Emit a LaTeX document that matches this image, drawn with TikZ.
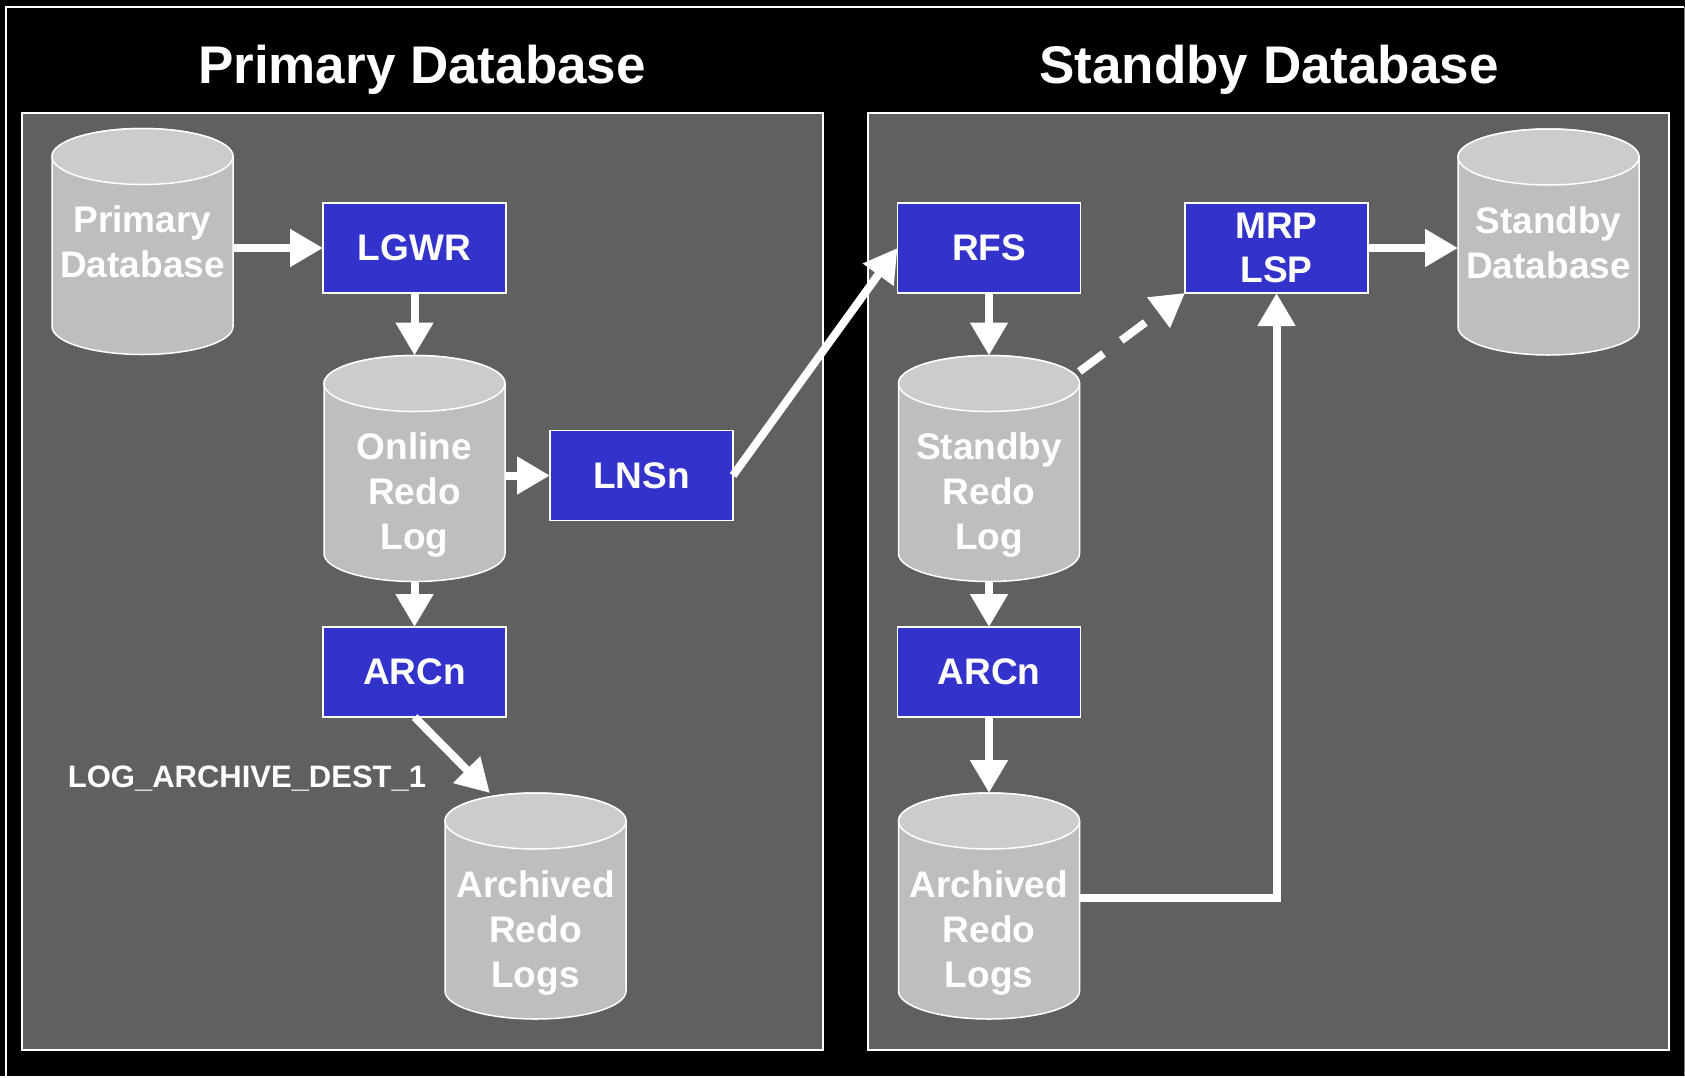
\documentclass[tikz,border=0pt]{standalone}
\usepackage{fontspec}
\setmainfont{Liberation Sans}
\usetikzlibrary{arrows.meta}
\definecolor{panelGray}{HTML}{606060}
\definecolor{procBlue}{HTML}{3333CC}
\definecolor{cylBody}{HTML}{BEBEBE}
\definecolor{cylTop}{HTML}{CCCCCC}
\pgfdeclarelayer{back}
\pgfdeclarelayer{cyl}
\pgfsetlayers{back,cyl,main}

\begin{document}
\begin{tikzpicture}[x=1pt, y=-1pt,
    every node/.style={text=white, font=\bfseries},
    proc/.style={draw=white, line width=1.5pt, fill=procBlue, minimum width=183pt, minimum height=90pt,
        outer sep=0pt, align=center, font=\fontsize{37}{44}\selectfont\bfseries},
    dbcyl/.style={minimum width=181pt, minimum height=226pt, outer sep=0pt, inner sep=0pt},
    dbtext/.style={align=center, font=\fontsize{37}{45}\selectfont\bfseries},
    flow/.style={draw=white, line width=8pt, -{Triangle[width=36pt,length=33pt]}}]
    \begin{pgfonlayer}{back}
    \fill[black] (0,0) rectangle (1685,1076);
    \draw[white, line width=2pt] (6,1076) -- (6,7) -- (1684,7);
    \draw[gray, line width=1pt] (1684,7) -- (1684,1076);
    \draw[white, line width=2pt, fill=panelGray] (22,113) rectangle (823,1050);
    \draw[white, line width=2pt, fill=panelGray] (868,113) rectangle (1669,1050);
    \end{pgfonlayer}
    \node[anchor=base, font=\fontsize{53}{60}\selectfont\bfseries] (ptitle) at (422,83) {Primary Database};
    \node[anchor=base, font=\fontsize{53}{60}\selectfont\bfseries] (stitle) at (1269,83) {Standby Database};
    % primary side
    \node[dbcyl, label={[dbtext, yshift=-0.5pt]center:{Primary\\Database}}] (pdb) at (142.5,241.5) {};
    \node[proc] (lgwr) at (414.5,248) {LGWR};
    \node[dbcyl, label={[dbtext, yshift=-27pt]center:{Online\\Redo\\Log}}] (olog) at (414.5,468.5) {};
    \node[proc] (lnsn) at (641.5,475.5) {LNSn};
    \node[proc] (arcp) at (414.5,672) {ARCn};
    \node[dbcyl, label={[dbtext, yshift=-27pt]center:{Archived\\Redo\\Logs}}] (alogp) at (535.5,906) {};
    \node[anchor=base, font=\fontsize{31}{36}\selectfont\bfseries] (dest) at (247,787) {LOG\_ARCHIVE\_DEST\_1};
    % standby side
    \node[proc] (rfs) at (989,248) {RFS};
    \node[proc] (mrp) at (1276.5,248) {MRP\\LSP};
    \node[dbcyl, label={[dbtext, yshift=-0.5pt]center:{Standby\\Database}}] (sdb) at (1548.5,242) {};
    \node[dbcyl, label={[dbtext, yshift=-27pt]center:{Standby\\Redo\\Log}}] (slog) at (989,468.5) {};
    \node[proc] (arcs) at (989,672) {ARCn};
    \node[dbcyl, label={[dbtext, yshift=-27pt]center:{Archived\\Redo\\Logs}}] (alogs) at (989,906) {};
    % cylinder bodies under the texts
    \begin{pgfonlayer}{cyl}
    \foreach \c in {pdb,olog,alogp,sdb,slog,alogs} {
        \draw[white, line width=1.5pt, fill=cylBody]
            ([yshift=-28pt]\c.north west) -- ([yshift=28pt]\c.south west)
            arc[start angle=180, end angle=360, x radius=90.5pt, y radius=28pt]
            -- ([yshift=-28pt]\c.north east)
            arc[start angle=0, end angle=180, x radius=90.5pt, y radius=28pt] -- cycle;
        \draw[white, line width=1.5pt, fill=cylTop]
            ([yshift=-28pt]\c.north) ellipse [x radius=90.5pt, y radius=28pt];
    }
    \end{pgfonlayer}
    % arrows
    \draw[flow] (pdb.east |- lgwr.west) -- (lgwr.west);
    \draw[flow] (lgwr.south) -- (olog.north);
    \draw[flow] (olog.east |- lnsn.west) -- (lnsn.west);
    \draw[flow] (olog.south) -- (arcp.north);
    \draw[flow] (arcp.south) -- (alogp.112);
    \draw[flow] (lnsn.east) -- (rfs.west);
    \draw[flow] (rfs.south) -- (slog.north);
    \draw[flow, dash pattern=on 30pt off 22pt] (slog.47) -- (mrp.south west);
    \draw[flow] (slog.south) -- (arcs.north);
    \draw[flow] (arcs.south) -- (alogs.north);
    \draw[flow] ([yshift=8pt]alogs.east) -| (mrp.south);
    \draw[flow] (mrp.east) -- (mrp.east -| sdb.west);
\end{tikzpicture}
\end{document}
